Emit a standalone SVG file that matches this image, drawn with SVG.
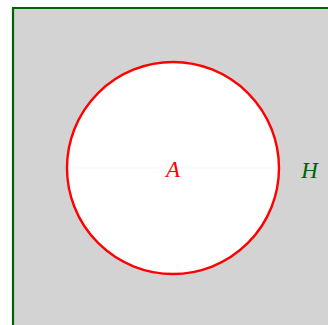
<svg xmlns="http://www.w3.org/2000/svg" width="328" height="325" viewBox="0 0 328 325">
<style>
.lbl{font-family:"Liberation Serif","DejaVu Serif",serif;font-style:italic;font-size:23px;text-anchor:middle}
</style>
<g id="H">
<rect x="13" y="8" width="320" height="325" fill="#d3d3d3"/>
<path d="M13,330 L13,8 L330,8" fill="none" stroke="#006400" stroke-width="2.2"/>
<text class="lbl" x="309.5" y="177.5" fill="#006400">H</text>
</g>
<g id="A">
<circle cx="173" cy="168" r="106" fill="#ffffff" stroke="#ff0000" stroke-width="2.4"/>
<line x1="68" y1="168" x2="278" y2="168" stroke="#f2f2f2" stroke-width="0.6"/>
<text class="lbl" x="173" y="177" fill="#ff0000">A</text>
</g>
<g id="connectors"></g>
</svg>
